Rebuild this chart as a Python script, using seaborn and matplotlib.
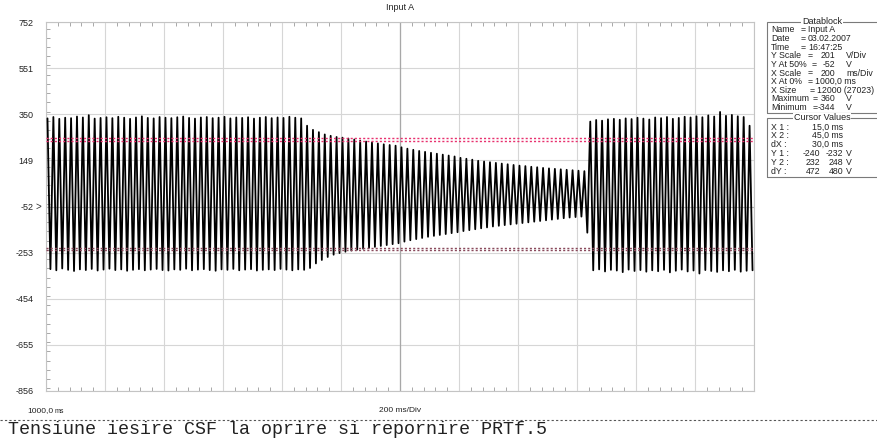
import numpy as np
import pandas as pd
import matplotlib
matplotlib.use("Agg")
import matplotlib.pyplot as plt
import seaborn as sns
from matplotlib.patches import Rectangle
from matplotlib.lines import Line2D
from matplotlib.ticker import MultipleLocator

# ---------------- data ----------------
title = "Input A"
start_ms = 1000.0          # X At 0%
ms_per_div = 200           # X Scale
n_xdiv = 12
period_ms = 20.0           # one cycle of the output voltage
y_center = -52             # Y At 50%
v_per_div = 201            # Y Scale
y_ticks = [752, 551, 350, 149, -52, -253, -454, -655, -856]

# per-cycle positive peaks (V)
peaks_running = [332, 338, 330, 335, 333, 340, 336, 346, 331, 334, 337, 333, 339, 335, 330,
                 336, 341, 334, 332, 338, 335, 333, 337, 340, 334, 331, 336, 338, 333, 335,
                 339, 332, 336, 334, 337, 331, 335, 338, 333, 336, 334, 339, 335, 332]
peaks_stopping = [300, 282, 272, 262, 256, 251, 248, 244, 240, 235, 231, 227, 223, 219, 216,
                  213, 206, 200, 195, 190, 186, 182, 178, 174, 170, 166, 160, 156, 152, 147,
                  144, 141, 138, 135, 132, 129, 126, 124, 121, 119, 116, 114, 112, 110, 108,
                  106, 104, 102]
peaks_restart = [318, 325, 322, 328, 330, 326, 332, 329, 335, 331, 327, 336, 333, 338, 330,
                 334, 339, 336, 341, 337, 345, 340, 360, 343, 347, 341, 338, 300]

# per-cycle negative peaks (V)
troughs_running = [-325, -330, -322, -328, -333, -326, -329, -324, -331, -327, -323, -329, -326,
                   -332, -328, -325, -330, -327, -324, -329, -331, -326, -328, -323, -330, -327,
                   -325, -329, -332, -326, -328, -324, -330, -327, -325, -331, -328, -326, -329,
                   -324, -327, -330, -326, -328]
troughs_stopping = [-320, -300, -285, -272, -262, -255, -249, -244, -240, -236, -232, -228, -224,
                    -220, -216, -212, -205, -199, -194, -189, -184, -180, -176, -172, -168, -164,
                    -159, -155, -151, -147, -143, -139, -136, -133, -130, -127, -124, -121, -118,
                    -115, -112, -109, -106, -103, -100, -98, -96, -166]
troughs_restart = [-330, -326, -335, -328, -331, -338, -327, -333, -329, -336, -330, -334, -328,
                   -339, -332, -327, -335, -331, -344, -329, -333, -337, -330, -334, -328, -336,
                   -332, -330]

cursor_y2 = [232, 248]
cursor_y1 = [-240, -232]

# datablock: (label, "=", value, unit)
datablock_rows = [
    ("Name", "=", "Input A", ""),
    ("Date", "=", "03.02.2007", ""),
    ("Time", "=", "16:47:25", ""),
    ("Y Scale", "=", "201", "V/Div"),
    ("Y At 50%", "=", "-52", "V"),
    ("X Scale", "=", "200", "ms/Div"),
    ("X At 0%", "=", "1000,0 ms", ""),
    ("X Size", "=", "12000 (27023)", ""),
    ("Maximum", "=", "360", "V"),
    ("Minimum", "=", "-344", "V"),
]
cursor_rows = [
    ("X 1 :", "15,0 ms", "", ""),
    ("X 2 :", "45,0 ms", "", ""),
    ("dX :", "30,0 ms", "", ""),
    ("Y 1 :", "-240", "-232", "V"),
    ("Y 2 :", "232", "248", "V"),
    ("dY :", "472", "480", "V"),
]
caption = "Tensiune iesire CSF la oprire si repornire PRTf.5"

# ---------------- build trace ----------------
peaks = peaks_running + peaks_stopping + peaks_restart
troughs = troughs_running + troughs_stopping + troughs_restart
t, v = [], []
for k, (p, tr) in enumerate(zip(peaks, troughs)):
    t0 = start_ms + k * period_ms
    t += [t0 + 0.25 * period_ms, t0 + 0.75 * period_ms]
    v += [p, tr]
df = pd.DataFrame({"t": t, "v": v})

# ---------------- figure ----------------
W, H = 877, 441
sns.set_style("white")
plt.rcParams["font.family"] = ["Liberation Sans", "DejaVu Sans"]
fig = plt.figure(figsize=(W / 100, H / 100), dpi=100)

def fx(x):
    return x / W

def fy(y):
    return 1 - y / H

ax = fig.add_axes([fx(46), fy(391), fx(754) - fx(46), fy(22) - fy(391)])
x_end = start_ms + n_xdiv * ms_per_div
ax.set_xlim(start_ms, x_end)
ax.set_ylim(y_center - 4 * v_per_div, y_center + 4 * v_per_div)

ax.set_xticks([start_ms + i * ms_per_div for i in range(n_xdiv + 1)])
ax.set_yticks(y_ticks)
ax.set_yticklabels([str(y) for y in y_ticks])
ax.tick_params(axis="x", which="major", length=0, labelbottom=False)
ax.tick_params(axis="y", which="major", length=0, pad=9, labelsize=6.5, labelcolor="#222222")
ax.xaxis.set_minor_locator(MultipleLocator(ms_per_div / 5))
ax.yaxis.set_minor_locator(MultipleLocator(v_per_div / 5))
ax.tick_params(which="minor", direction="in", length=3, color="#a8a8a8", width=0.7,
               top=True, bottom=True, left=True, right=False)
ax.grid(True, which="major", color="#d6d6d6", lw=0.8)
ax.axvline(start_ms + n_xdiv / 2 * ms_per_div, color="#a8a8a8", lw=0.9, zorder=1)
ax.axhline(y_center, color="#b8b8b8", lw=0.8, zorder=1)
for s in ax.spines.values():
    s.set_color("#c4c4c4")
    s.set_linewidth(0.8)

sns.lineplot(data=df, x="t", y="v", estimator=None, sort=False, color="black",
             lw=1.3, ax=ax, zorder=3)
ax.set_xlabel("")
ax.set_ylabel("")

for yv in cursor_y2:
    ax.axhline(yv, color="#e8306e", lw=1.0, ls=(0, (1.5, 1.5)), zorder=4)
for yv in cursor_y1:
    ax.axhline(yv, color="#8a4a5c", lw=1.0, ls=(0, (1.5, 1.5)), zorder=4)

# ">" marker at the 50% level
fig.text(fx(38), fy(207), ">", fontsize=7, ha="center", va="center", color="#333333")

# title and bottom labels
fig.text(fx(400), fy(8), title, fontsize=6.5, ha="center", va="center", color="#222222")
fig.text(fx(27), fy(411), "1000,0", fontsize=6, ha="left", va="center", color="#222222")
fig.text(fx(55), fy(411.5), "ms", fontsize=5, ha="left", va="center", color="#222222")
fig.text(fx(400), fy(411), "200 ms/Div", fontsize=6, ha="center", va="center", color="#222222")
fig.add_artist(Line2D([0, 1], [fy(420), fy(420)], transform=fig.transFigure,
                      color="#555555", lw=0.8, ls=(0, (2, 2))))
fig.text(fx(8), fy(430), caption, fontsize=13.2, family="Liberation Mono",
         ha="left", va="center", color="#222222")

# datablock boxes
def box(y0, y1, label):
    fig.add_artist(Rectangle((fx(767), fy(y1)), fx(960) - fx(767), fy(y0) - fy(y1),
                             transform=fig.transFigure, fill=False, ec="#7a7a7a", lw=0.8))
    fig.text(fx(822), fy(y0), label, fontsize=6.5, ha="center", va="center", color="#222222",
             bbox=dict(facecolor="white", edgecolor="none", pad=0.6))

FS = 6.3
txt = dict(fontsize=FS, ha="left", va="center", color="#222222")
txt_r = dict(fontsize=FS, ha="right", va="center", color="#222222")
eq_x = [801, 801, 801, 808, 812, 808, 808, 810, 813, 813]
box(22, 113, "Datablock")
for i, (k, eq, val, unit) in enumerate(datablock_rows):
    yy = 30 + i * 8.6
    fig.text(fx(771), fy(yy), k, **txt)
    fig.text(fx(eq_x[i]), fy(yy), eq, **txt)
    if unit:
        fig.text(fx(835), fy(yy), val, **txt_r)
        fig.text(fx(846), fy(yy), unit, **txt)
    else:
        fig.text(fx(eq_x[i] + 7), fy(yy), val, **txt)

box(118, 177, "Cursor Values")
for i, (k, a, b, unit) in enumerate(cursor_rows):
    yy = 127 + i * 8.8
    fig.text(fx(771), fy(yy), k, **txt)
    if b:
        fig.text(fx(820), fy(yy), a, **txt_r)
        fig.text(fx(843), fy(yy), b, **txt_r)
        fig.text(fx(846), fy(yy), unit, **txt)
    else:
        fig.text(fx(812), fy(yy), a, **txt)

fig.savefig("out.png", dpi=100)
